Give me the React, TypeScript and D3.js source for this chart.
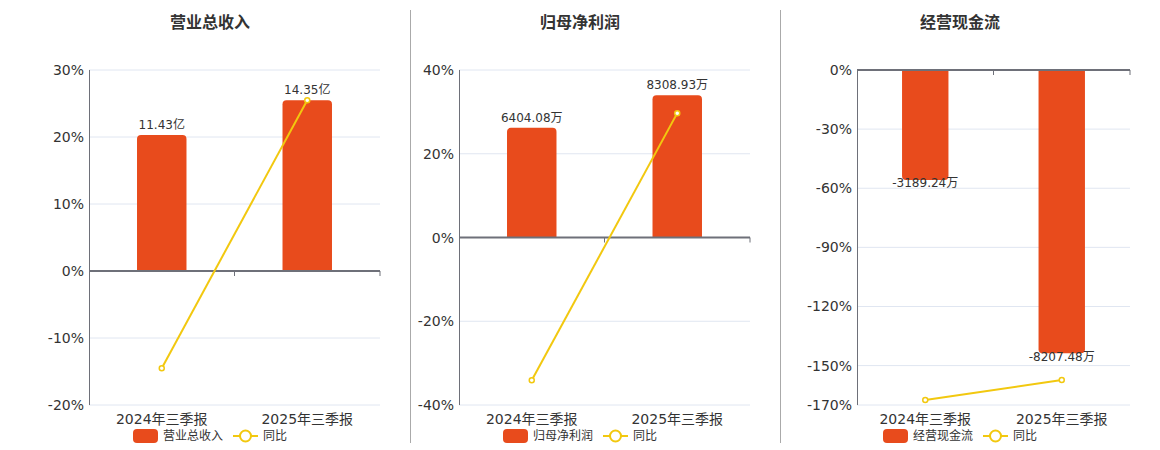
import React from "react";
import * as d3 from "d3";

const categories = ["2024年三季报", "2025年三季报"];

const revenueValues = [11.43, 14.35];
const revenueYoY = [-14.5, 25.5];
const revenueTicks = [-20, -10, 0, 10, 20, 30];
const revenueBarAxis = [-11.27, 16.9];

const profitValues = [6404.08, 8308.93];
const profitYoY = [-34.1, 29.7];
const profitTicks = [-40, -20, 0, 20, 40];
const profitBarAxis = [-9781, 9781];

const cashValues = [-3189.24, -8207.48];
const cashYoY = [-167.5, -157.3];
const cashTicks = [-170, -150, -120, -90, -60, -30, 0];
const cashBarAxis = [-9703, 0];

const titles = ["营业总收入", "归母净利润", "经营现金流"];
const units = ["亿", "万", "万"];
const yoyName = "同比";

const BAR = "#E84B1C";
const LINE = "#F2C80F";
const AXIS = "#6E7079";
const GRID = "#E0E6F1";
const TEXT = "#333";
const FONT = "'DejaVu Sans', 'Noto Sans CJK SC', sans-serif";

type PanelProps = {
  title: string;
  unit: string;
  values: number[];
  yoy: number[];
  ticks: number[];
  barAxis: number[];
  left: number;
  right: number;
  cx: number;
};

const TOP = 70;
const BOTTOM = 405;

function Panel({ title, unit, values, yoy, ticks, barAxis, left, right, cx }: PanelProps) {
  const yMin = d3.min(ticks)!;
  const yMax = d3.max(ticks)!;
  const y = d3.scaleLinear().domain([yMin, yMax]).range([BOTTOM, TOP]);
  const yb = d3.scaleLinear().domain(barAxis).range([BOTTOM, TOP]);
  const x = d3.scaleBand<string>().domain(categories).range([left, right]);
  const bw = x.bandwidth() * 0.34;
  const zeroY = y(0);
  const line = d3
    .line<number>()
    .x((_, i) => x(categories[i])! + x.bandwidth() / 2)
    .y((d) => y(d));

  const legendRectW = 25;
  const nameW = title.length * 12;
  const totalW = legendRectW + 5 + nameW + 10 + 25 + 5 + 24;
  const lx = cx - totalW / 2;
  const ly = 436;

  const r = 4;
  const barPath = (xc: number, v: number) => {
    const x0 = xc - bw / 2;
    const y0 = yb(0);
    const y1 = yb(v);
    const h = Math.abs(y1 - y0);
    const rr = Math.min(r, h);
    if (v >= 0) {
      return `M${x0},${y0}V${y1 + rr}Q${x0},${y1} ${x0 + rr},${y1}H${x0 + bw - rr}Q${x0 + bw},${y1} ${x0 + bw},${y1 + rr}V${y0}Z`;
    }
    return `M${x0},${y0}V${y1 - rr}Q${x0},${y1} ${x0 + rr},${y1}H${x0 + bw - rr}Q${x0 + bw},${y1} ${x0 + bw},${y1 - rr}V${y0}Z`;
  };

  return (
    <g fontFamily={FONT}>
      <text x={cx} y={23} textAnchor="middle" dominantBaseline="middle" fontSize={16} fontWeight="bold" fill={TEXT}>
        {title}
      </text>
      {ticks.map((t) => (
        <g key={t}>
          {t !== 0 && <line x1={left} x2={right} y1={y(t)} y2={y(t)} stroke={GRID} strokeWidth={1} />}
          <text x={left - 5} y={y(t) + 1} textAnchor="end" dominantBaseline="middle" fontSize={14} fill={TEXT}>
            {`${t}%`}
          </text>
        </g>
      ))}
      <line x1={left + 0.5} x2={left + 0.5} y1={TOP} y2={BOTTOM} stroke={AXIS} strokeWidth={1} />
      {categories.map((c, i) => {
        const xc = x(c)! + x.bandwidth() / 2;
        const v = values[i];
        const label = `${v.toFixed(2)}${unit}`;
        return (
          <g key={c}>
            <path d={barPath(xc, v)} fill={BAR} />
            <text
              x={xc}
              y={v >= 0 ? yb(v) - 6 : yb(v) - 1.5}
              textAnchor="middle"
              dominantBaseline={v >= 0 ? "auto" : "hanging"}
              fontSize={12}
              fill={TEXT}
            >
              {label}
            </text>
            <text x={xc} y={420} textAnchor="middle" dominantBaseline="middle" fontSize={14} fill={TEXT}>
              {c}
            </text>
          </g>
        );
      })}
      <line x1={left} x2={right} y1={zeroY} y2={zeroY} stroke={AXIS} strokeWidth={2} />
      {categories.map((c, i) => {
        const tx = x(c)! + x.bandwidth();
        return <line key={`t${i}`} x1={tx} x2={tx} y1={zeroY} y2={zeroY + 5} stroke={AXIS} strokeWidth={1} />;
      })}
      <path d={line(yoy)!} fill="none" stroke={LINE} strokeWidth={2} />
      {yoy.map((v, i) => (
        <circle
          key={`p${i}`}
          cx={x(categories[i])! + x.bandwidth() / 2}
          cy={y(v)}
          r={2.5}
          fill="#fff"
          stroke={LINE}
          strokeWidth={1.5}
        />
      ))}
      <g>
        <rect x={lx} y={ly - 7} width={legendRectW} height={14} rx={4} fill={BAR} />
        <text x={lx + legendRectW + 5} y={ly} dominantBaseline="middle" fontSize={12} fill={TEXT}>
          {title}
        </text>
        <line
          x1={lx + legendRectW + 5 + nameW + 10}
          x2={lx + legendRectW + 5 + nameW + 35}
          y1={ly}
          y2={ly}
          stroke={LINE}
          strokeWidth={2}
        />
        <circle cx={lx + legendRectW + 5 + nameW + 22.5} cy={ly} r={5.5} fill="#fff" stroke={LINE} strokeWidth={2} />
        <text x={lx + legendRectW + 5 + nameW + 40} y={ly} dominantBaseline="middle" fontSize={12} fill={TEXT}>
          {yoyName}
        </text>
      </g>
    </g>
  );
}

export default function App() {
  return (
    <svg width={1160} height={450} style={{ position: "absolute", left: 0, top: 0, background: "#fff" }}>
      <rect width={1160} height={450} fill="#fff" />
      <line x1={410.5} x2={410.5} y1={10} y2={443} stroke="#AAA" strokeWidth={1} />
      <line x1={780.5} x2={780.5} y1={10} y2={443} stroke="#AAA" strokeWidth={1} />
      <Panel
        title={titles[0]}
        unit={units[0]}
        values={revenueValues}
        yoy={revenueYoY}
        ticks={revenueTicks}
        barAxis={revenueBarAxis}
        left={89}
        right={380}
        cx={210}
      />
      <Panel
        title={titles[1]}
        unit={units[1]}
        values={profitValues}
        yoy={profitYoY}
        ticks={profitTicks}
        barAxis={profitBarAxis}
        left={459}
        right={750}
        cx={580}
      />
      <Panel
        title={titles[2]}
        unit={units[2]}
        values={cashValues}
        yoy={cashYoY}
        ticks={cashTicks}
        barAxis={cashBarAxis}
        left={857}
        right={1130}
        cx={960}
      />
    </svg>
  );
}
